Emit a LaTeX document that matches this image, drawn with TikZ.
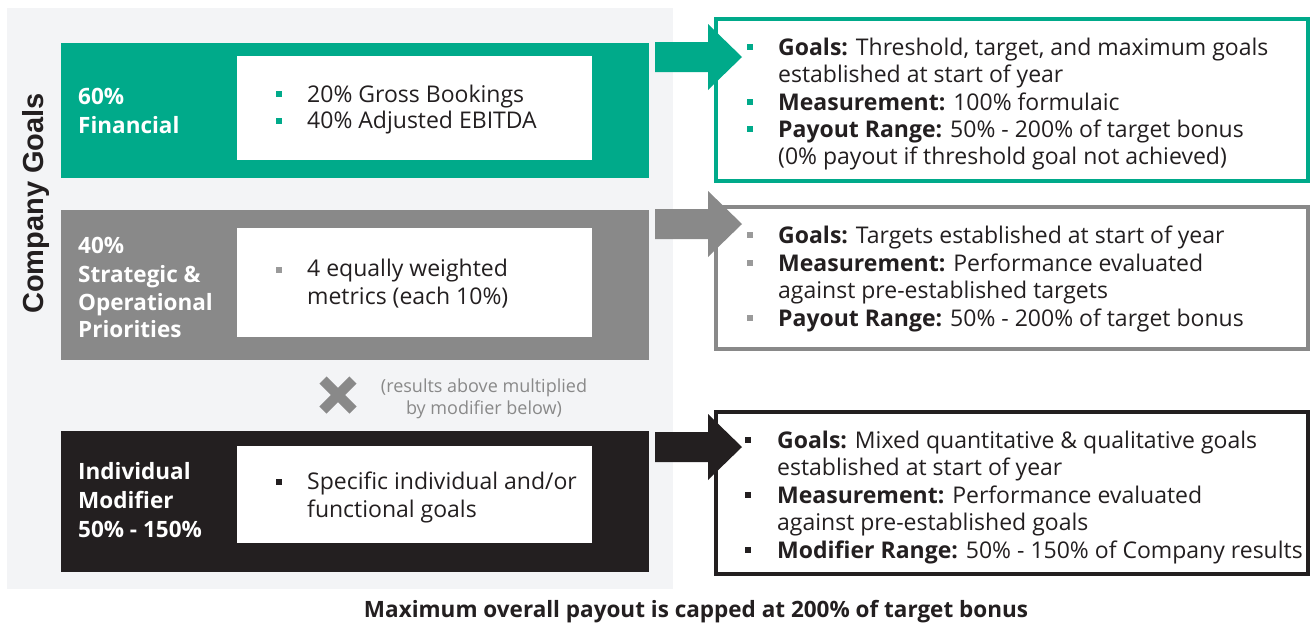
\documentclass[tikz,border=0pt]{standalone}
\usepackage{fontspec}
\setmainfont{Open Sans}
\newfontfamily\titlefont{Liberation Sans}
\definecolor{ugreen}{HTML}{00AA8A}
\definecolor{ugray}{HTML}{898989}
\definecolor{ublack}{HTML}{231F20}
\definecolor{ubg}{HTML}{F3F4F6}
\definecolor{utext}{HTML}{231F20}
\definecolor{ubulgray}{HTML}{9A9A9A}
\tikzset{
  txt/.style={anchor=base west, inner sep=0pt, font=\fontsize{23}{27}\selectfont, text=utext},
  lbl/.style={anchor=base west, inner sep=0pt, font=\fontsize{22.5}{27}\selectfont\bfseries, text=white},
  note/.style={anchor=base, inner sep=0pt, font=\fontsize{18}{22}\selectfont, text=ugray},
  captext/.style={anchor=base, inner sep=0pt, font=\fontsize{22.5}{27}\selectfont\bfseries, text=utext},
  ttl/.style={anchor=base, inner sep=0pt, rotate=90, font=\fontsize{29}{34}\titlefont\bfseries, text=utext},
  rbox/.style={draw=#1, line width=4pt, fill=white},
}
\newcommand{\bul}[3]{\fill[#1] (#2-3,#3-3) rectangle (#2+3,#3+3);}
\begin{document}
\begin{tikzpicture}[x=1pt,y=-1pt]
\useasboundingbox (0,0) rectangle (1312,625);
\fill[white] (0,0) rectangle (1312,625);
% background panel
\fill[ubg] (7,8) rectangle (673,589);
% title
\node[ttl] (title) at (43,203.5) {Company Goals};

% ---- left boxes
\fill[ugreen] (61,43) rectangle (649,178);
\fill[white] (237,56) rectangle (592,160);
\fill[ugray] (61,210) rectangle (649,360);
\fill[white] (237,228) rectangle (592,337);
\fill[ublack] (61,431) rectangle (649,572);
\fill[white] (237,446) rectangle (592,543);

% labels
\node[lbl] (f1) at (78,104) {60\%};
\node[lbl] (f2) at (78,133) {Financial};
\node[lbl] (s1) at (78,253) {40\%};
\node[lbl] (s2) at (78,282) {Strategic \&};
\node[lbl] (s3) at (78,310) {Operational};
\node[lbl] (s4) at (78,337) {Priorities};
\node[lbl] (i1) at (78,479) {Individual};
\node[lbl] (i2) at (78,508) {Modifier};
\node[lbl] (i3) at (78,537) {50\% - 150\%};

% inner texts
\bul{ugreen}{279}{94}
\bul{ugreen}{279}{121}
\node[txt] (fa) at (307,102) {20\% Gross Bookings};
\node[txt] (fb) at (307,128) {40\% Adjusted EBITDA};
\bul{ubulgray}{279}{269.5}
\node[txt] (sa) at (307,276) {4 equally weighted};
\node[txt] (sb) at (307,304) {metrics (each 10\%)};
\bul{ublack}{279}{482}
\node[txt] (ia) at (307,489) {Specific individual and/or};
\node[txt] (ib) at (307,517) {functional goals};

% multiply sign
\draw[ugray, line width=10pt] (323,380) -- (353,410) (353,380) -- (323,410);
\node[note] (m1) at (484,392) {(results above multiplied};
\node[note] (m2) at (484,414) {by modifier below)};

% ---- right boxes
\draw[rbox=ugreen] (716,19) rectangle (1308,181);
\draw[rbox=ugray] (716,207) rectangle (1308,349);
\draw[rbox=ublack] (716,412) rectangle (1308,574);

% block arrows
\fill[ugreen] (655,42) -- (708,42) -- (708,24) -- (742,57) -- (708,90) -- (708,72) -- (655,72) -- cycle;
\fill[ugray] (655,209) -- (708,209) -- (708,191) -- (742,224) -- (708,257) -- (708,239) -- (655,239) -- cycle;
\fill[ublack] (655,432) -- (708,432) -- (708,414) -- (742,447) -- (708,480) -- (708,462) -- (655,462) -- cycle;

% right texts: financial
\bul{ugreen}{750}{47}
\node[txt] (r1a) at (778,55) {\textbf{Goals:} Threshold, target, and maximum goals};
\node[txt] (r1b) at (778,82.5) {established at start of year};
\bul{ugreen}{750}{102}
\node[txt] (r1c) at (778,110) {\textbf{Measurement:} 100\% formulaic};
\bul{ugreen}{750}{129}
\node[txt] (r1d) at (778,137) {\textbf{Payout Range:} 50\% - 200\% of target bonus};
\node[txt] (r1e) at (778,164) {(0\% payout if threshold goal not achieved)};

% right texts: strategic
\bul{ubulgray}{750}{235}
\node[txt] (r2a) at (778,243) {\textbf{Goals:} Targets established at start of year};
\bul{ubulgray}{750}{263}
\node[txt] (r2b) at (778,271) {\textbf{Measurement:} Performance evaluated};
\node[txt] (r2c) at (778,298) {against pre-established targets};
\bul{ubulgray}{750}{318}
\node[txt] (r2d) at (778,326) {\textbf{Payout Range:} 50\% - 200\% of target bonus};

% right texts: individual
\bul{ublack}{748}{440}
\node[txt] (r3a) at (777,448) {\textbf{Goals:} Mixed quantitative \& qualitative goals};
\node[txt] (r3b) at (777,475.5) {established at start of year};
\bul{ublack}{748}{495}
\node[txt] (r3c) at (777,503) {\textbf{Measurement:} Performance evaluated};
\node[txt] (r3d) at (777,530.5) {against pre-established goals};
\bul{ublack}{748}{550}
\node[txt] (r3e) at (777,558) {\textbf{Modifier Range:} 50\% - 150\% of Company results};

% caption
\node[captext] (caption) at (696,617) {Maximum overall payout is capped at 200\% of target bonus};
\end{tikzpicture}
\end{document}
